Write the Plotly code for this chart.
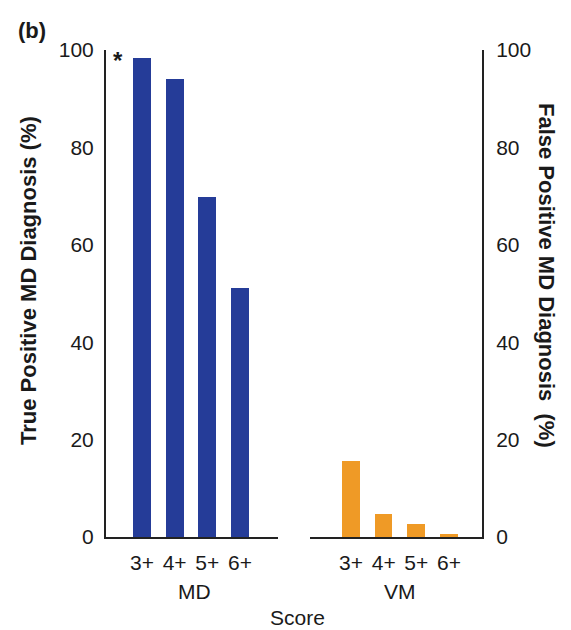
import plotly.graph_objects as go

# Score thresholds and diagnosis rates (%)
scores = ["3+", "4+", "5+", "6+"]
md_true_positive = [98.4, 94.1, 69.8, 51.1]
vm_false_positive = [15.6, 4.7, 2.7, 0.6]

blue = "#253C98"
orange = "#EF9A26"
axis_col = "#222222"
font_family = "Liberation Sans, Arial, sans-serif"

pos = list(range(len(scores)))

fig = go.Figure()
fig.add_trace(go.Bar(x=pos, y=md_true_positive, marker=dict(color=blue, line=dict(width=0)),
                     width=0.55, xaxis="x", yaxis="y", showlegend=False))
fig.add_trace(go.Bar(x=pos, y=vm_false_positive, marker=dict(color=orange, line=dict(width=0)),
                     width=0.55, xaxis="x2", yaxis="y2", showlegend=False))

tick_font = dict(family=font_family, size=21, color="#1a1a1a")
hidden_tick = dict(ticks="outside", tickcolor="rgba(0,0,0,0)", tickfont=tick_font)

fig.update_layout(
    width=571, height=630,
    margin=dict(l=106, r=89, t=50, b=93),
    plot_bgcolor="white", paper_bgcolor="white",
    bargap=0,
    xaxis=dict(domain=[0, 0.457], range=[-1.10, 4.16], tickvals=pos, ticktext=scores,
               showline=True, linecolor=axis_col, linewidth=2, showgrid=False, zeroline=False,
               ticklen=6, anchor="y", **hidden_tick),
    xaxis2=dict(domain=[0.543, 1], range=[-1.25, 4.01], tickvals=pos, ticktext=scores,
                showline=True, linecolor=axis_col, linewidth=2, showgrid=False, zeroline=False,
                ticklen=6, anchor="y2", **hidden_tick),
    yaxis=dict(range=[0, 100], tickvals=[0, 20, 40, 60, 80, 100], showline=True,
               linecolor=axis_col, linewidth=2, showgrid=False, zeroline=False,
               ticklen=6, anchor="x", **hidden_tick),
    yaxis2=dict(range=[0, 100], tickvals=[0, 20, 40, 60, 80, 100], showline=True,
                linecolor=axis_col, linewidth=2, showgrid=False, zeroline=False,
                ticklen=8, side="right", anchor="x2", **hidden_tick),
)

ann_font = dict(family=font_family, size=21, color="#1a1a1a")
bold_font = dict(family=font_family, size=22, color="#1a1a1a", weight="bold")

annotations = [
    dict(text="(b)", x=16, y=30, font=bold_font),
    dict(text="MD", x=194, y=591, font=ann_font),
    dict(text="VM", x=400, y=591, font=ann_font),
    dict(text="Score", x=297, y=617, font=ann_font),
    dict(text="True Positive MD Diagnosis (%)", x=28, y=281, textangle=-90, font=bold_font),
    dict(text="False Positive MD Diagnosis\u00a0\u00a0(%)", x=547, y=275, textangle=90, font=bold_font),
]
# convert pixel positions to paper coordinates
W, H = 571, 630
L, R, T, B = 106, 89, 50, 93
pw, ph = W - L - R, H - T - B
out = []
for a in annotations:
    px, py = a.pop("x"), a.pop("y")
    a.update(x=(px - L) / pw, y=1 - (py - T) / ph, xref="paper", yref="paper",
             showarrow=False, xanchor="left" if a["text"] == "(b)" else "center",
             yanchor="middle")
    out.append(a)

# significance marker next to the first MD bar
out.append(dict(text="<b>*</b>", x=-0.72, y=md_true_positive[0] - 0.5, xref="x", yref="y",
                showarrow=False, font=dict(family=font_family, size=24, color="#1a1a1a"),
                xanchor="center", yanchor="middle"))
fig.update_layout(annotations=out)

fig.write_html("out.html")
